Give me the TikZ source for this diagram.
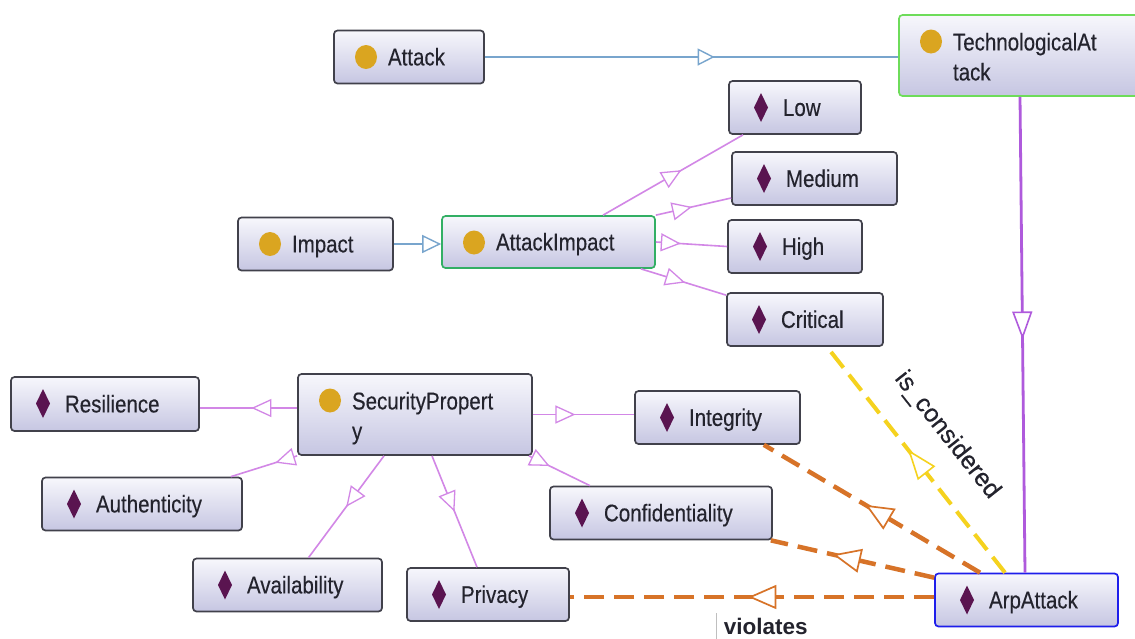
\documentclass[tikz,border=0pt]{standalone}
\usepackage{fontspec}
\usepackage{graphicx}
\setmainfont{Liberation Sans}
\newfontfamily\boxfont{Liberation Sans}[FakeBold=0.35]
\usetikzlibrary{arrows.meta,decorations.markings}

\definecolor{boxline}{RGB}{65,65,75}
\definecolor{boxtop}{RGB}{247,247,252}
\definecolor{boxbot}{RGB}{198,198,226}
\definecolor{txt}{RGB}{35,35,45}
\definecolor{gold}{RGB}{218,165,32}
\definecolor{plum}{RGB}{90,20,80}
\definecolor{greenA}{RGB}{110,220,90}
\definecolor{greenB}{RGB}{50,175,100}
\definecolor{blueB}{RGB}{30,30,235}
\definecolor{edgeblue}{RGB}{120,165,205}
\definecolor{edgepink}{RGB}{210,135,230}
\definecolor{edgeviolet}{RGB}{175,90,220}
\definecolor{edgeyellow}{RGB}{245,210,30}
\definecolor{edgeorange}{RGB}{215,115,40}

% box labels: sans text, slightly stretched vertically, indented past the icon
\newcommand\boxtxt[1]{\scalebox{1}[1.18]{#1}}
\newcommand\nodelabel[1]{\hspace*{54pt}\boxtxt{#1}}

\tikzset{
  box/.style={draw=boxline, line width=1.7pt, rounded corners=3.5pt,
    top color=boxtop, bottom color=boxbot, inner xsep=0pt, inner ysep=0pt,
    minimum height=53pt, text height=20pt, text depth=3.2pt, align=left,
    text=txt, font=\boxfont\fontsize{20.5}{30}\selectfont},
  cls/.style={box, path picture={\fill[gold]
      ([xshift=32pt,yshift=-26.5pt]path picture bounding box.north west)
      ellipse [x radius=11pt, y radius=12pt];}},
  ind/.style={box, path picture={\fill[plum, sharp corners]
      ([xshift=32pt,yshift=-26.5pt]path picture bounding box.north west)
      +(0,14.5pt) -- +(7pt,0) -- +(0,-14.5pt) -- +(-7pt,0) -- cycle;}},
  w/.style={minimum width=#1, text width=#1},
  two/.style={minimum height=81pt, text depth=30.2pt},
  midtip/.style 2 args={postaction={decorate}, decoration={markings,
      mark=at position #1 with {\pgfsetdash{}{0pt}\arrow{Triangle[open, fill=white, #2]}}}},
  isa/.style={draw=edgeblue, line width=1.6pt},
  sub/.style={draw=edgepink, line width=1.6pt},
  typ/.style={draw=edgeviolet, line width=2.8pt},
  consid/.style={draw=edgeyellow, line width=4pt, dash pattern=on 20pt off 9pt},
  viol/.style={draw=edgeorange, line width=4.5pt, dash pattern=on 20pt off 10pt},
}

\begin{document}
\begin{tikzpicture}[x=1pt, y=-1pt]
\fill[white] (0,0) rectangle (1135,638);
\useasboundingbox (0,0) rectangle (1135,638);

% classes
\node[cls, w=150pt] (Attack) at (409,57) {\nodelabel{Attack}};
\node[cls, two, w=240pt, draw=greenA] (Tech) at (1019,55.5) {\nodelabel{TechnologicalAt}\\\nodelabel{tack}};
\node[cls, w=155pt] (Impact) at (315.5,244) {\nodelabel{Impact}};
\node[cls, w=213pt, minimum height=52pt, draw=greenB] (AI) at (548.5,242) {\nodelabel{AttackImpact}};
\node[cls, two, w=234pt] (SP) at (415,414.5) {\nodelabel{SecurityPropert}\\\nodelabel{y}};

% individuals
\node[ind, w=132pt] (Low) at (795,107.5) {\nodelabel{Low}};
\node[ind, w=165pt] (Medium) at (814.5,178.5) {\nodelabel{Medium}};
\node[ind, w=134pt] (High) at (795,246.5) {\nodelabel{High}};
\node[ind, w=156pt] (Critical) at (805,319.5) {\nodelabel{Critical}};
\node[ind, w=188pt, minimum height=54pt] (Resilience) at (105,404) {\nodelabel{Resilience}};
\node[ind, w=165pt] (Integrity) at (717.5,417.5) {\nodelabel{Integrity}};
\node[ind, w=200pt] (Authenticity) at (142,504) {\nodelabel{Authenticity}};
\node[ind, w=222pt] (Confidentiality) at (661,513) {\nodelabel{Confidentiality}};
\node[ind, w=189pt] (Availability) at (287.5,585) {\nodelabel{Availability}};
\node[ind, w=162pt] (Privacy) at (488,594.5) {\nodelabel{Privacy}};
\node[ind, w=183pt, draw=blueB] (Arp) at (1026.5,600) {\nodelabel{ArpAttack}};

% subclass links
\draw[isa, midtip={0.556}{length=17pt, width=17pt, line width=1.4pt}]
  (Attack.east) -- (Attack.east -| Tech.west);
\draw[isa, -{Triangle[open, fill=white, length=19pt, width=18pt, line width=1.4pt]}]
  (Impact.east) -- (Impact.east -| AI.west);

% values of AttackImpact
\draw[sub, midtip={0.56}{length=20pt, width=18pt, line width=1.3pt}]
  ([xshift=54.5pt]AI.north) -- ([xshift=-52pt]Low.south);
\draw[sub, midtip={0.48}{length=20pt, width=18pt, line width=1.3pt}]
  (AI.north east) -- ([yshift=-19.5pt]Medium.west);
\draw[sub, midtip={0.35}{length=20pt, width=18pt, line width=1.3pt}]
  (AI.east) -- (High.west);
\draw[sub, midtip={0.52}{length=20pt, width=18pt, line width=1.3pt}]
  ([xshift=-15pt]AI.south east) -- ([yshift=-3pt]Critical.north west);

% values of SecurityProperty
\draw[sub, midtip={0.47}{length=20pt, width=18pt, line width=1.3pt}]
  ([yshift=6.5pt]SP.west) -- ([yshift=-4pt]Resilience.east);
\draw[sub, midtip={0.33}{length=20pt, width=18pt, line width=1.3pt}]
  (SP.south west) -- ([xshift=-12pt]Authenticity.north east);
\draw[sub, midtip={0.5}{length=20pt, width=18pt, line width=1.3pt}]
  ([xshift=-31pt]SP.south) -- ([xshift=21pt]Availability.north);
\draw[sub, midtip={0.5}{length=20pt, width=18pt, line width=1.3pt}]
  ([xshift=17pt]SP.south) -- ([xshift=-11pt]Privacy.north);
\draw[sub, midtip={0.42}{length=20pt, width=18pt, line width=1.3pt}]
  (SP.east) -- (SP.east -| Integrity.west);
\draw[sub, midtip={0.34}{length=20pt, width=18pt, line width=1.3pt}]
  ([xshift=-4pt]SP.south east) -- ([xshift=-71pt]Confidentiality.north);

% ArpAttack relations
\draw[typ, midtip={0.51}{length=28pt, width=20pt, line width=1.6pt}]
  ([xshift=1pt]Tech.south) -- ([xshift=-1.5pt]Arp.north);
\draw[consid, midtip={0.545}{length=30pt, width=22pt, line width=1.6pt}]
  ([xshift=-21.5pt]Arp.north) -- node[sloped, pos=0.5, above=26pt, text=txt,
    font=\boxfont\fontsize{25}{28}\selectfont, inner sep=0pt] (isc) {is\_considered}
  ([xshift=22pt]Critical.south);
\draw[viol, midtip={0.53}{length=28pt, width=24pt, line width=1.7pt}]
  ([xshift=-46.5pt]Arp.north) -- ([xshift=-37pt]Integrity.south east);
\draw[viol, midtip={0.62}{length=28pt, width=24pt, line width=1.7pt}]
  ([yshift=-5pt]Arp.north west) -- ([xshift=-2pt]Confidentiality.south east);
\draw[viol, midtip={0.51}{length=28pt, width=24pt, line width=1.7pt}]
  ([yshift=3pt]Arp.west) -- node[pos=0.462, below=19pt, text=txt,
    font=\bfseries\fontsize{22.5}{26}\selectfont, inner sep=0pt] (vio) {violates}
  ([yshift=3pt]Arp.west -| Privacy.east);
\draw[black!25, line width=1.2pt] ([xshift=-5pt,yshift=3pt]vio.north west) -- ([xshift=-5pt,yshift=-3pt]vio.south west);
\end{tikzpicture}
\end{document}
